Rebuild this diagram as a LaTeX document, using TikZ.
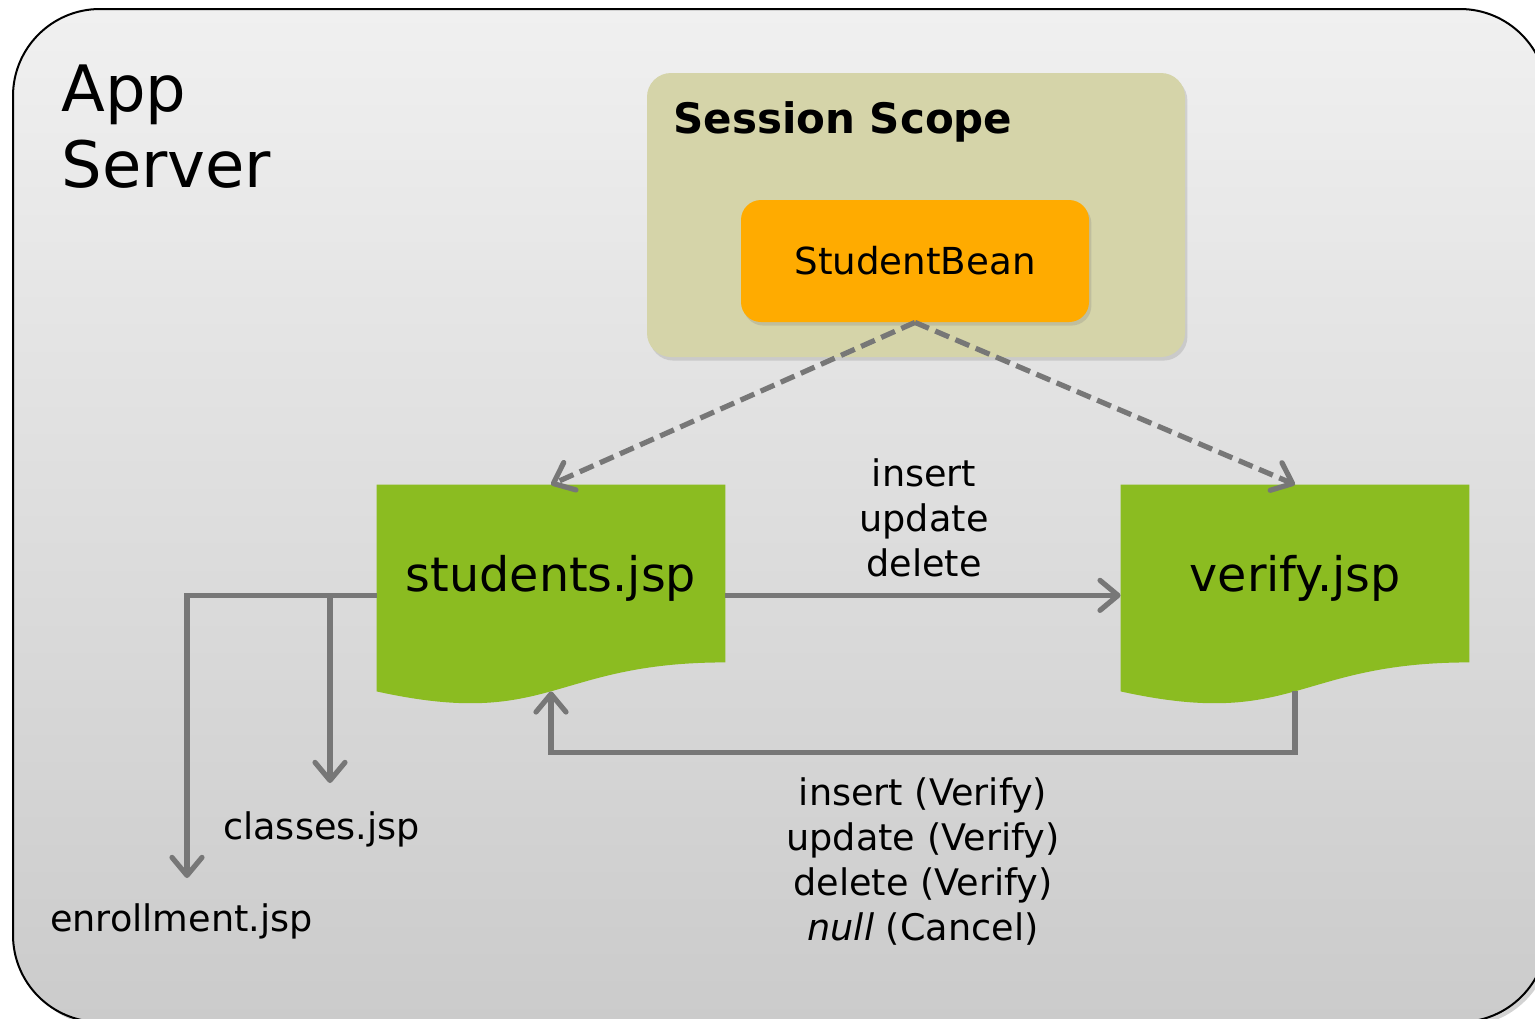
\documentclass[tikz,border=0pt]{standalone}
\usepackage{fontspec}
\setmainfont{DejaVu Sans}
\usetikzlibrary{arrows.meta,shadows,calc}
\definecolor{linegray}{HTML}{777777}
\definecolor{boxtop}{HTML}{F0F0F0}
\definecolor{boxbot}{HTML}{CBCBCB}
\definecolor{scopefill}{HTML}{D5D4A9}
\definecolor{beanfill}{HTML}{FFAB00}
\definecolor{docgreen}{HTML}{8BBC21}
\newcommand\drawdoc[1]{%
  \fill[docgreen] (#1.north west) -- (#1.north east) -- ($(#1.south east)+(0,-43.7)$)
    .. controls ($(#1.south)+(0,-43.7)$) and ($(#1.south)+(0,23.7)$) .. ($(#1.south west)+(0,-14.7)$) -- cycle;}
\begin{document}
\begin{tikzpicture}[x=0.5pt,y=-0.5pt,
  appbox/.style={draw=black, line width=1pt, rounded corners=43.5pt,
    top color=boxtop, bottom color=boxbot, minimum width=767pt, minimum height=506.5pt,
    inner sep=0, drop shadow={opacity=0.35, shadow xshift=2pt, shadow yshift=-2pt}},
  scopebox/.style={fill=scopefill, rounded corners=12pt, minimum width=269pt,
    minimum height=142pt, inner sep=0,
    drop shadow={opacity=0.25, shadow xshift=1.2pt, shadow yshift=-1.8pt}},
  beanbox/.style={fill=beanfill, rounded corners=10pt, minimum width=174pt,
    minimum height=61pt, inner sep=0, font=\fontsize{18.6}{22}\selectfont,
    drop shadow={opacity=0.25, shadow xshift=1.2pt, shadow yshift=-1.8pt}},
  docnode/.style={minimum width=174pt, minimum height=110.35pt, inner sep=0},
  doctext/.style={font=\fontsize{23.8}{28}\selectfont, inner sep=0, anchor=base},
  conn/.style={draw=linegray, line width=2.6pt,
    -{Straight Barb[length=9pt,width=15pt,round]}},
  dconn/.style={conn, dash pattern=on 7.5pt off 3.5pt},
  lbl/.style={font=\fontsize{18.3}{22.4}\selectfont, align=center, inner sep=0},
]
\useasboundingbox (0,0) rectangle (1535,1018);
\clip (0,0) rectangle (1535,1018);

\node[appbox] (app) at (780,515.5) {};
\node[anchor=north west, align=left, inner sep=0,
  font=\fontsize{32}{38}\selectfont] (appT) at (61,64.3) {App\\Server};

\node[scopebox] (scope) at (916,215) {};
\node[anchor=base west, inner sep=0, font=\bfseries\fontsize{21}{25}\selectfont]
  (scopeT) at (673,133) {Session Scope};
\node[beanbox] (bean) at (915,261) {StudentBean};

\node[docnode] (stu) at (551,595.35) {};
\drawdoc{stu}
\node[doctext] (stuT) at ($(stu.center)+(0,-3.5)$) {students.jsp};
\node[docnode] (ver) at (1295,595.35) {};
\drawdoc{ver}
\node[doctext] (verT) at ($(ver.center)+(0,-3.5)$) {verify.jsp};

\coordinate (clsTip) at (330,783);
\coordinate (enrTip) at (187,878);

\draw[dconn] (bean.south) -- (stu.north);
\draw[dconn] (bean.south) -- (ver.north);
\draw[conn] (stu.east) -- (ver.west);
\draw[conn] ($(ver.south)+(0,-14.7)$) -- ++(0,61) -| ($(stu.south)+(0,-14.7)$);
\draw[conn] (stu.west) -| (enrTip);
\draw[conn] (clsTip |- stu.west) -- (clsTip);

\node[lbl, anchor=north] (opsT) at (924,458.6) {insert\\update\\delete};
\node[lbl, anchor=north] (backT) at (923,777.5)
  {insert (Verify)\\update (Verify)\\delete (Verify)\\\textit{null} (Cancel)};
\node[lbl, anchor=base] (cls) at (321.5,839) {classes.jsp};
\node[lbl, anchor=base] (enr) at (181.5,931) {enrollment.jsp};
\end{tikzpicture}
\end{document}
